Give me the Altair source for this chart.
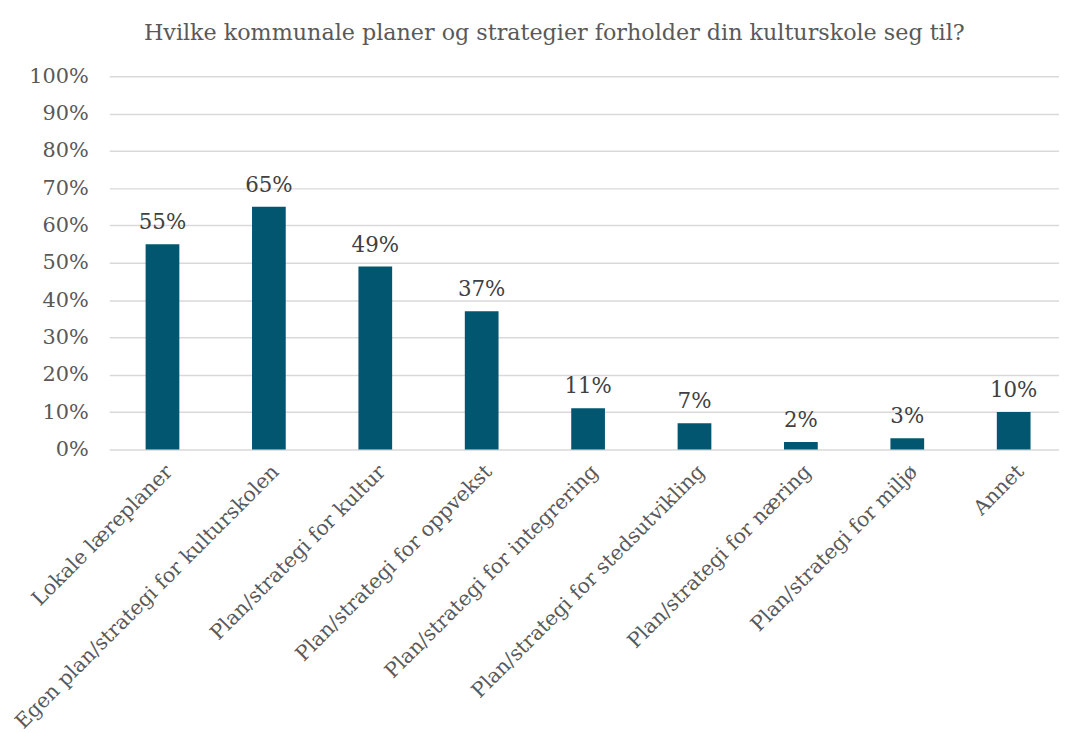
import altair as alt
import pandas as pd

categories = [
    "Lokale læreplaner",
    "Egen plan/strategi for kulturskolen",
    "Plan/strategi for kultur",
    "Plan/strategi for oppvekst",
    "Plan/strategi for integrering",
    "Plan/strategi for stedsutvikling",
    "Plan/strategi for næring",
    "Plan/strategi for miljø",
    "Annet",
]
values = [0.55, 0.65, 0.49, 0.37, 0.11, 0.07, 0.02, 0.03, 0.10]

df = pd.DataFrame({"cat": categories, "val": values})

FONT = "DejaVu Serif"
BAR = "#03566f"
GRID = "#d9d9d9"
TXT = "#595959"

x = alt.X(
    "cat:N",
    sort=categories,
    scale=alt.Scale(range=[0, 965], paddingInner=0.683, paddingOuter=0.342),
    axis=alt.Axis(
        title=None,
        labelAngle=-45,
        labelFont=FONT,
        labelFontSize=20.5,
        labelColor=TXT,
        labelPadding=12,
        ticks=False,
        domain=False,
        labelLimit=0,
        grid=False,
    ),
)
y = alt.Y(
    "val:Q",
    scale=alt.Scale(domain=[0, 1], nice=False),
    axis=alt.Axis(
        title=None,
        format=".0%",
        values=[i / 10 for i in range(11)],
        labelFont=FONT,
        labelFontSize=21,
        labelColor=TXT,
        labelPadding=21,
        ticks=False,
        domain=False,
        gridColor=GRID,
        gridWidth=1.5,
    ),
)

bars = alt.Chart(df).mark_bar(color=BAR).encode(x=x, y=y)
labels = alt.Chart(df).mark_text(
    font=FONT, fontSize=21.5, color="#404040", dy=-15, baseline="alphabetic"
).encode(x=x, y=y, text=alt.Text("val:Q", format=".0%"))

chart = (
    alt.layer(bars, labels)
    .properties(
        width=957,
        height=376,
        autosize=alt.AutoSizeParams(type="none"),
        padding={"left": 102, "top": 66, "right": 0, "bottom": 280},
        title=alt.TitleParams(
            "Hvilke kommunale planer og strategier forholder din kulturskole seg til?",
            font=FONT,
            fontSize=22.4,
            fontWeight="normal",
            color=TXT,
            anchor="middle",
            dx=-30,
            offset=21,
        ),
    )
    .configure_view(stroke=None)
)

chart.save("out.html", embed_options={"renderer": "svg", "actions": False})
